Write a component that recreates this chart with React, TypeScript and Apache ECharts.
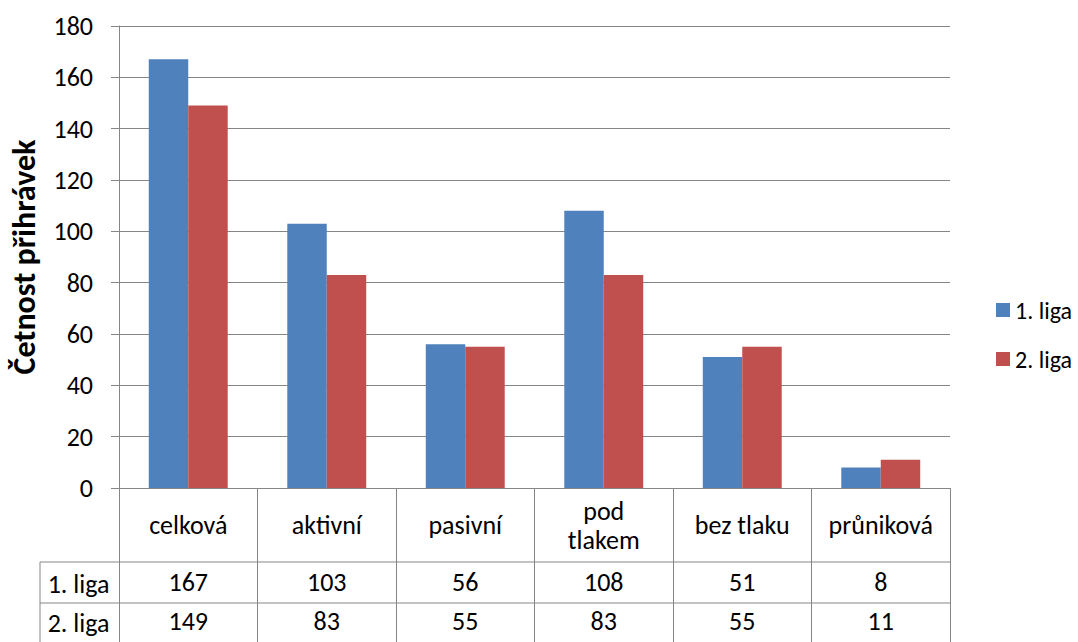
import React, { useEffect, useRef } from "react";
import * as echarts from "echarts";

const categories = ["celková", "aktivní", "pasivní", "pod\ntlakem", "bez tlaku", "průniková"];
const seriesNames = ["1. liga", "2. liga"];
const liga1 = [167, 103, 56, 108, 51, 8];
const liga2 = [149, 83, 55, 83, 55, 11];
const yTicks = { min: 0, max: 180, interval: 20 };
const yTitle = "Četnost přihrávek";

const FONT = "Carlito, Lato, 'Noto Sans', sans-serif";
const GRAY = "#868686";
const FS = 26;

export default function App() {
  const ref = useRef<HTMLDivElement>(null);
  useEffect(() => {
    document.body.style.margin = "0";
    const chart = echarts.init(ref.current!, null, { renderer: "svg" });
    const left = 117, right = 950, top = 26, axisY = 488;
    const rowTop1 = 562, rowTop2 = 603, bottom = 642;
    const colLeft = 40;
    const valueAxis = (vals: number[], margin: number) => ({
      type: "category",
      data: vals.map(String),
      position: "bottom",
      gridIndex: 0,
      axisLine: { show: false },
      axisTick: { show: false },
      axisLabel: {
        interval: 0,
        margin,
        verticalAlign: "middle",
        fontSize: FS,
        color: "#000",
        fontFamily: FONT,
      },
    });
    chart.setOption({
      animation: false,
      textStyle: { fontFamily: FONT },
      grid: { left, right: 1078 - right, top, bottom: 642 - axisY, containLabel: false },
      legend: {
        data: seriesNames,
        orient: "vertical",
        left: 991,
        top: 293,
        itemWidth: 14,
        itemHeight: 14,
        itemGap: 25,
        icon: "rect",
        textStyle: { fontSize: 24, color: "#000", fontFamily: FONT },
      },
      xAxis: [
        {
          type: "category",
          data: categories,
          position: "bottom",
          axisLine: { show: true, lineStyle: { color: GRAY, width: 1 } },
          axisTick: { show: true, interval: 0, length: bottom - axisY, lineStyle: { color: GRAY, width: 1 } },
          axisLabel: {
            interval: 0,
            margin: 37,
            verticalAlign: "middle",
            fontSize: FS,
            lineHeight: 29,
            color: "#000",
            fontFamily: FONT,
          },
        },
        valueAxis(liga1, 94),
        valueAxis(liga2, 133),
      ],
      yAxis: {
        type: "value",
        min: yTicks.min,
        max: yTicks.max,
        interval: yTicks.interval,
        name: yTitle,
        nameLocation: "middle",
        nameGap: 79,
        nameTextStyle: { fontSize: 32, fontWeight: "bold", color: "#000", fontFamily: FONT },
        axisLine: { show: true, lineStyle: { color: GRAY, width: 1 } },
        axisTick: { show: true, length: 8, lineStyle: { color: GRAY, width: 1 } },
        axisLabel: { margin: 26, fontSize: FS, color: "#000", fontFamily: FONT },
        splitLine: { show: true, lineStyle: { color: GRAY, width: 1 } },
      },
      series: [
        { name: seriesNames[0], type: "bar", data: liga1, itemStyle: { color: "#4F81BD" }, barGap: "0%", barCategoryGap: "43%" },
        { name: seriesNames[1], type: "bar", data: liga2, itemStyle: { color: "#C0504D" }, barGap: "0%", barCategoryGap: "43%" },
      ],
      graphic: [
        { type: "line", shape: { x1: colLeft, y1: rowTop1, x2: right, y2: rowTop1 }, style: { stroke: GRAY, lineWidth: 1 } },
        { type: "line", shape: { x1: colLeft, y1: rowTop2, x2: right, y2: rowTop2 }, style: { stroke: GRAY, lineWidth: 1 } },
        { type: "line", shape: { x1: colLeft, y1: rowTop1, x2: colLeft, y2: bottom }, style: { stroke: GRAY, lineWidth: 1 } },
        { type: "text", x: (colLeft + left) / 2, y: (rowTop1 + rowTop2) / 2 + 1, style: { text: seriesNames[0], fontSize: FS, fill: "#000", fontFamily: FONT, align: "center", verticalAlign: "middle" } },
        { type: "text", x: (colLeft + left) / 2, y: (rowTop2 + bottom) / 2, style: { text: seriesNames[1], fontSize: FS, fill: "#000", fontFamily: FONT, align: "center", verticalAlign: "middle" } },
      ],
    });
    return () => chart.dispose();
  }, []);
  return <div ref={ref} style={{ width: 1078, height: 642 }} />;
}
